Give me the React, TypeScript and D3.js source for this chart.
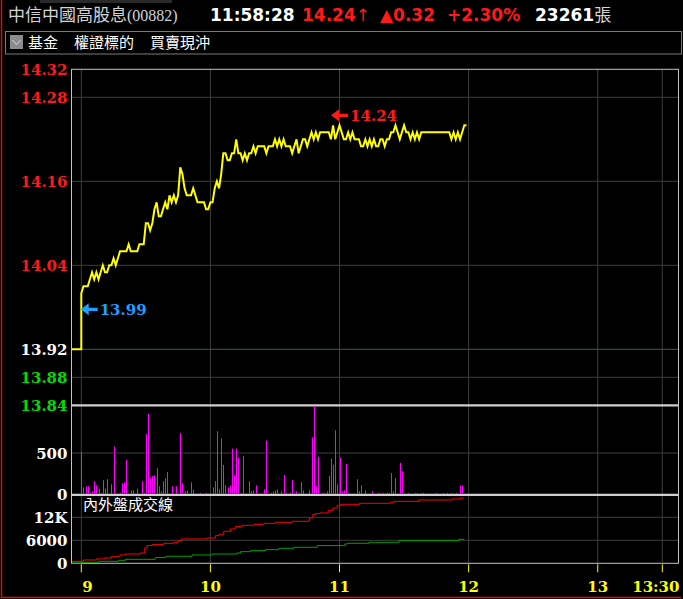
import React from 'react';
import * as d3 from 'd3';

// ---------- data ----------
const stockName = '中信中國高股息';
const stockCode = '(00882)';
const quoteTime = '11:58:28';
const lastPrice = '14.24';
const change = '0.32';
const changePct = '+2.30%';
const totalVolume = '23261';
const menuItems = ['基金', '權證標的', '買賣現沖'];

const prevClose = 13.92;
const highPrice = 14.24;
const highMinute = 117;
const lowPrice = 13.99;
const lowMinute = 0;

const priceTicks = [14.32, 14.28, 14.16, 14.04, 13.92, 13.88, 13.84];
const priceGrid = [14.28, 14.16, 14.04, 13.92, 13.88];
const timeTicks = [0, 60, 120, 180, 240, 270];
const timeLabels = ['9', '10', '11', '12', '13', '13:30'];
const volTicks = [0, 500];
const volLabels = ['0', '500'];
const flowTicks = [0, 6000, 12000];
const flowLabels = ['0', '6000', '12K'];

// one price per minute from 9:00
const prices = [
  14.00, 14.01, 14.01, 14.01, 14.02, 14.03, 14.02, 14.03, 14.02, 14.03,
  14.04, 14.03, 14.03, 14.04, 14.04, 14.05, 14.04, 14.05, 14.06, 14.06,
  14.06, 14.06, 14.07, 14.06, 14.06, 14.06, 14.06, 14.07, 14.07, 14.07,
  14.10, 14.10, 14.09, 14.10, 14.12, 14.13, 14.11, 14.11, 14.12, 14.13,
  14.12, 14.14, 14.13, 14.14, 14.13, 14.14, 14.18, 14.17, 14.15, 14.14,
  14.14, 14.14, 14.15, 14.14, 14.13, 14.13, 14.13, 14.13, 14.12, 14.12,
  14.13, 14.13, 14.15, 14.16, 14.15, 14.17, 14.20, 14.20, 14.19, 14.19,
  14.20, 14.20, 14.22, 14.20, 14.20, 14.19, 14.20, 14.19, 14.20, 14.20,
  14.21, 14.20, 14.21, 14.21, 14.21, 14.21, 14.20, 14.21, 14.21, 14.21,
  14.22, 14.21, 14.22, 14.21, 14.22, 14.21, 14.21, 14.21, 14.20, 14.21,
  14.22, 14.20, 14.21, 14.22, 14.22, 14.21, 14.22, 14.23, 14.22, 14.23,
  14.22, 14.23, 14.23, 14.23, 14.23, 14.23, 14.22, 14.24, 14.22, 14.23,
  14.24, 14.23, 14.22, 14.22, 14.23, 14.22, 14.23, 14.22, 14.22, 14.22,
  14.21, 14.21, 14.22, 14.21, 14.22, 14.21, 14.22, 14.21, 14.21, 14.22,
  14.22, 14.21, 14.22, 14.22, 14.23, 14.23, 14.24, 14.23, 14.22, 14.23,
  14.24, 14.23, 14.23, 14.22, 14.23, 14.22, 14.23, 14.22, 14.23, 14.23,
  14.23, 14.23, 14.23, 14.23, 14.23, 14.23, 14.23, 14.23, 14.23, 14.23,
  14.23, 14.23, 14.22, 14.23, 14.22, 14.23, 14.22, 14.23, 14.24, 14.24,
];

// one volume per minute from 9:00
const volumes = [
  512, 89, 102, 102, 24, 41, 163, 114, 73, 24,
  175, 73, 187, 12, 126, 577, 12, 12, 24, 138,
  150, 419, 12, 53, 53, 12, 73, 12, 163, 24,
  724, 967, 199, 224, 236, 321, 102, 41, 163, 199,
  272, 12, 102, 0, 102, 0, 736, 138, 41, 53,
  12, 150, 61, 12, 12, 24, 0, 0, 24, 12,
  12, 89, 163, 760, 65, 675, 358, 114, 89, 114,
  553, 236, 553, 443, 24, 467, 12, 12, 163, 41,
  53, 114, 12, 12, 12, 65, 650, 12, 24, 41,
  53, 65, 12, 41, 236, 24, 12, 24, 175, 24,
  41, 24, 150, 53, 12, 12, 53, 687, 1069, 102,
  455, 12, 24, 24, 41, 224, 431, 358, 772, 126,
  443, 41, 53, 370, 24, 0, 0, 12, 187, 41,
  114, 0, 53, 0, 0, 41, 12, 12, 24, 24,
  24, 12, 24, 24, 260, 41, 199, 12, 382, 285,
  12, 0, 24, 12, 12, 24, 24, 12, 24, 24,
  12, 12, 12, 12, 12, 24, 12, 12, 24, 12,
  24, 12, 24, 12, 24, 12, 114, 114,
];

// cumulative outer (外盤) / inner (內盤) volume: [minute, value]
const outerPre = 520;
const outerFlow: [number, number][] = [
  [0, 520], [1, 860], [7, 1130], [11, 1390], [14, 1830], [18, 2170], [20.5, 2430],
  [27.5, 2700], [29.5, 4000], [30.6, 4620], [33, 4870], [38.3, 5220], [43, 5480],
  [45, 5910], [46.5, 6350], [58.5, 6600], [62.3, 7210], [64, 7570], [66.2, 8350],
  [69.3, 8960], [71.6, 9570], [74.7, 9910], [80.2, 10170], [84.8, 10430],
  [90.2, 10700], [98, 10960], [106, 11830], [107.6, 12700], [108.8, 12960],
  [111, 13130], [114.7, 13830], [116.9, 14430], [118.9, 15040], [120.5, 15390],
  [129.3, 15650], [143.7, 15910], [145.3, 16170], [156.9, 16520], [172.4, 16780],
  [176.3, 17040], [178, 17040],
];
const innerPre = 90;
const innerFlow: [number, number][] = [
  [0, 260], [8, 520], [17.4, 780], [20.5, 1040], [34.4, 1480], [39.1, 1830],
  [51.5, 2170], [60.8, 2430], [72.4, 2700], [74, 3040], [78.6, 3300], [85.6, 3560],
  [91.8, 3910], [98.8, 4170], [109.6, 4620], [122.5, 5040], [123.6, 5220],
  [133.7, 5480], [147.6, 5910], [175.5, 6260], [178, 6260],
];

// ---------- layout ----------
const W = 683;
const H = 599;
const plotLeft = 71.5;
const plotRight = 678.5;
const plotTop = 69.3;
const priceBottom = 405.3;
const volBottom = 494.8;
const flowBottom = 563.3;

const serif = '"DejaVu Serif", serif';
const sansBold = '"DejaVu Sans", sans-serif';
const cjk = '"Noto Sans CJK TC", sans-serif';
const RED = '#ff1a1a';
const GRID = '#3e3e3e';
const FRAME = '#c4c4c4';

const x = d3.scaleLinear().domain([0, 270]).range([81.3, 662.3]);
const yP = d3.scaleLinear().domain([13.84, 14.32]).range([priceBottom, plotTop]);
const yV = d3.scaleLinear().domain([0, 500]).range([volBottom, 453.0]);
const yF = d3.scaleLinear().domain([0, 6000]).range([flowBottom, 540.3]);

function leftArrow(tx: number, ty: number) {
  return `M${tx},${ty} L${tx + 8},${ty - 6} L${tx + 8},${ty - 1.6} L${tx + 17},${ty - 1.6} L${tx + 17},${ty + 1.6} L${tx + 8},${ty + 1.6} L${tx + 8},${ty + 6} Z`;
}

export default function App() {
  const tLeft = x.invert(plotLeft + 0.5);

  const pricePts: [number, number][] = [
    [tLeft, prevClose],
    [0, prevClose],
    ...prices.map((p, i) => [i, p] as [number, number]),
  ];
  const priceLine = d3
    .line<[number, number]>()
    .x((d) => x(d[0]))
    .y((d) => yP(d[1]))(pricePts) as string;

  const flowLine = d3
    .line<[number, number]>()
    .x((d) => x(d[0]))
    .y((d) => yF(d[1]))
    .curve(d3.curveStepAfter);
  const outerPath = flowLine([[tLeft, outerPre], ...outerFlow]) as string;
  const innerPath = flowLine([[tLeft, innerPre], ...innerFlow]) as string;

  const priceColor = (p: number) =>
    p > prevClose ? RED : p < prevClose ? '#00dd00' : '#ffffff';

  const hx = x(highMinute) - 2;
  const hy = yP(highPrice) - 10;
  const lx = x(lowMinute) - 0.6;
  const ly = yP(lowPrice) + 9;

  return (
    <svg
      width={W}
      height={H}
      style={{ position: 'absolute', left: 0, top: 0, display: 'block', background: '#000' }}
    >
      <rect x={0} y={0} width={W} height={H} fill="#000" />
      <rect x={40} y={0} width={132} height={3} fill="#2a2a2a" />
      {/* outer borders */}
      <line x1={1.5} y1={0} x2={1.5} y2={598} stroke="#d01010" strokeWidth={1.5} />
      <line x1={1} y1={597.5} x2={681} y2={597.5} stroke="#e01010" strokeWidth={1.5} />

      {/* header row */}
      <text x={8} y={21} fill="#d4d4d4" fontSize={17} fontFamily={cjk}>
        {stockName}
        <tspan fontFamily='"Liberation Serif", serif' fontSize={16}>{stockCode}</tspan>
      </text>
      <text x={210} y={21} fill="#ffffff" fontSize={17} fontWeight="bold" fontFamily={sansBold}>
        {quoteTime}
      </text>
      <text x={302} y={21} fill={RED} fontSize={17} fontWeight="bold" fontFamily={sansBold}>
        {lastPrice}
        <tspan fontWeight="normal">↑</tspan>
      </text>
      <text x={380} y={21} fill={RED} fontSize={17} fontWeight="bold" fontFamily={sansBold}>
        {'▲' + change}
      </text>
      <text x={447} y={21} fill={RED} fontSize={17} fontWeight="bold" fontFamily={sansBold}>
        {changePct}
      </text>
      <text x={535} y={21} fill="#ffffff" fontSize={17} fontWeight="bold" fontFamily={sansBold}>
        {totalVolume}
        <tspan fontWeight="normal" fontFamily={cjk} fill="#d4d4d4">張</tspan>
      </text>

      {/* menu row */}
      <rect x={5.5} y={31.5} width={676} height={22.5} fill="none" stroke="#7a7a7a" />
      <rect x={10} y={35} width={13} height={14} fill="#8c8c8c" />
      <path d="M12.5,40 L16.5,44.5 L20.5,40" fill="none" stroke="#d8d8d8" strokeWidth={1} />
      {menuItems.map((m, i) => (
        <text key={m} x={[28, 74, 150][i]} y={48} fill="#ffffff" fontSize={15} fontFamily={cjk}>
          {m}
        </text>
      ))}

      {/* vertical grid */}
      {timeTicks.map((t) => (
        <line key={'vg' + t} x1={x(t)} y1={plotTop} x2={x(t)} y2={flowBottom} stroke={GRID} />
      ))}
      {/* price grid */}
      {priceGrid.map((p) => (
        <line
          key={'pg' + p}
          x1={plotLeft}
          y1={yP(p)}
          x2={plotRight}
          y2={yP(p)}
          stroke={p === prevClose ? '#3d5866' : GRID}
        />
      ))}
      <line x1={plotLeft} y1={yV(500)} x2={plotRight} y2={yV(500)} stroke={GRID} />
      {flowTicks.slice(1).map((v) => (
        <line key={'fg' + v} x1={plotLeft} y1={yF(v)} x2={plotRight} y2={yF(v)} stroke={GRID} />
      ))}

      {/* frame */}
      <rect
        x={plotLeft}
        y={plotTop}
        width={plotRight - plotLeft}
        height={flowBottom - plotTop}
        fill="none"
        stroke={FRAME}
      />
      <line x1={plotLeft} y1={priceBottom} x2={plotRight} y2={priceBottom} stroke="#cfcfcf" strokeWidth={2.2} />
      <line x1={plotLeft} y1={volBottom} x2={plotRight} y2={volBottom} stroke="#cfcfcf" strokeWidth={2.2} />

      {/* price labels */}
      {priceTicks.map((p) => (
        <text
          key={'pl' + p}
          x={67.5}
          y={yP(p) + 5.5}
          textAnchor="end"
          fill={priceColor(p)}
          fontSize={15}
          fontWeight="bold"
          fontFamily={serif}
        >
          {p.toFixed(2)}
        </text>
      ))}
      {volTicks.map((v, i) => (
        <text key={'vl' + v} x={67.5} y={yV(v) + 5.5} textAnchor="end" fill="#ffffff" fontSize={15} fontWeight="bold" fontFamily={serif}>
          {volLabels[i]}
        </text>
      ))}
      {flowTicks.map((v, i) => (
        <text key={'fl' + v} x={67.5} y={yF(v) + 5.5} textAnchor="end" fill="#ffffff" fontSize={15} fontWeight="bold" fontFamily={serif}>
          {flowLabels[i]}
        </text>
      ))}

      {/* volume bars */}
      {volumes.map((v, i) =>
        v > 0 ? (
          <line
            key={'vb' + i}
            x1={Math.round(x(i)) + 0.5}
            x2={Math.round(x(i)) + 0.5}
            y1={volBottom - 1}
            y2={Math.max(yV(v), priceBottom + 1)}
            stroke="#ff00ff"
            strokeWidth={1}
          />
        ) : null
      )}

      {/* price line */}
      <path d={priceLine} fill="none" stroke="#ffff00" strokeWidth={2} strokeLinejoin="miter" />

      {/* high / low markers */}
      <path d={leftArrow(hx, hy)} fill={RED} />
      <text x={hx + 19} y={hy + 5.5} fill={RED} fontSize={15} fontWeight="bold" fontFamily={serif}>
        {highPrice.toFixed(2)}
      </text>
      <path d={leftArrow(lx, ly)} fill="#1ea0ff" />
      <text x={lx + 19} y={ly + 5.5} fill="#1ea0ff" fontSize={15} fontWeight="bold" fontFamily={serif}>
        {lowPrice.toFixed(2)}
      </text>

      {/* flow lines */}
      <text x={83} y={510} fill="#ffffff" fontSize={15} fontFamily={cjk}>
        內外盤成交線
      </text>
      <path d={innerPath} fill="none" stroke="#00a000" strokeWidth={1} />
      <path d={outerPath} fill="none" stroke="#ff0000" strokeWidth={1} />

      {/* time axis */}
      {timeTicks.map((t, i) => (
        <g key={'tt' + t}>
          <line x1={x(t)} y1={flowBottom + 1} x2={x(t)} y2={flowBottom + 9} stroke="#ffff00" />
          <text
            x={i === 0 ? x(t) + 1 : i === timeTicks.length - 1 ? plotRight + 1 : x(t)}
            y={592}
            textAnchor={i === 0 ? 'start' : i === timeTicks.length - 1 ? 'end' : 'middle'}
            fill="#ffff00"
            fontSize={15}
            fontWeight="bold"
            fontFamily={serif}
          >
            {timeLabels[i]}
          </text>
        </g>
      ))}
    </svg>
  );
}
